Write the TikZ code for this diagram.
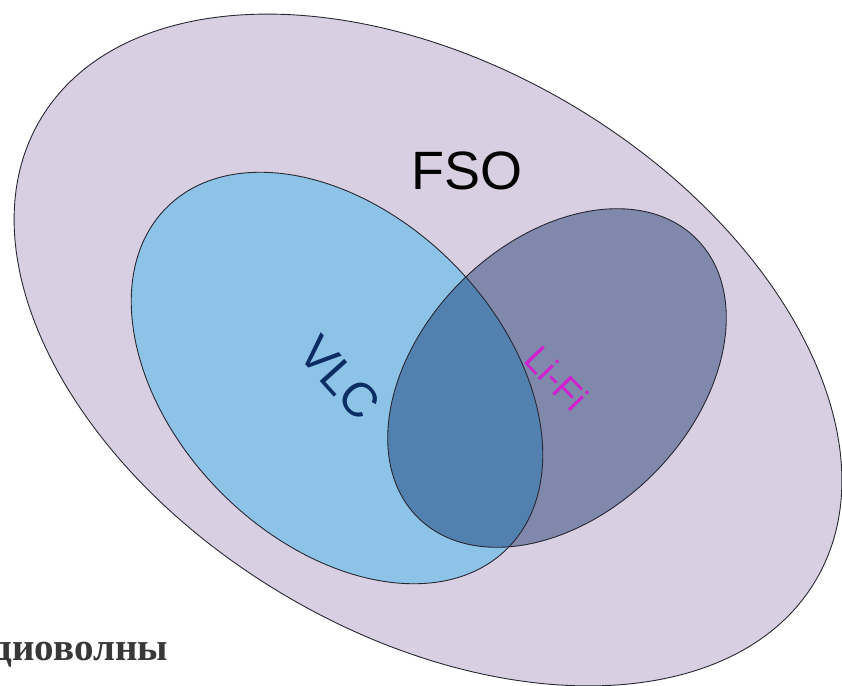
\documentclass[tikz,border=0pt]{standalone}
\usepackage{fontspec}
\setmainfont{Liberation Sans}
\newfontfamily\radiofont{Liberation Serif}
\definecolor{fsofill}{RGB}{216,208,226}
\definecolor{vlcfill}{RGB}{141,195,230}
\definecolor{lififill}{RGB}{128,136,172}
\definecolor{bothfill}{RGB}{82,129,176}
\definecolor{vlctext}{RGB}{12,45,100}
\definecolor{lifitext}{RGB}{208,32,208}
\definecolor{edge}{RGB}{40,40,50}
\tikzset{
  setline/.style={draw=edge, line width=0.9pt},
  lbl/.style={inner sep=0pt, outer sep=0pt}
}
\begin{document}
\begin{tikzpicture}[x=1pt,y=-1pt]
\useasboundingbox (0,0) rectangle (842,685);
\begin{scope}
\clip (0,0) rectangle (842,685);
% FSO
\fill[fsofill, rotate around={-30.8:(428,350)}] (428,350) ellipse [x radius=451, y radius=284];
% VLC
\fill[vlcfill, rotate around={-45:(337,378)}] (337,378) ellipse [x radius=241, y radius=163];
% Li-Fi
\fill[lififill, rotate around={45:(557,378)}] (557,378) ellipse [x radius=197, y radius=136];
% intersection
\begin{scope}
\clip[rotate around={-45:(337,378)}] (337,378) ellipse [x radius=241, y radius=163];
\fill[bothfill, rotate around={45:(557,378)}] (557,378) ellipse [x radius=197, y radius=136];
\end{scope}
% outlines
\draw[setline, rotate around={-30.8:(428,350)}] (428,350) ellipse [x radius=451, y radius=284];
\draw[setline, rotate around={-45:(337,378)}] (337,378) ellipse [x radius=241, y radius=163];
\draw[setline, rotate around={45:(557,378)}] (557,378) ellipse [x radius=197, y radius=136];
% labels
\node[lbl] (fso) at (467,171) {\fontsize{54}{58}\selectfont FSO};
\node[lbl, text=vlctext, rotate=-48] (vlc) at (340,378) {\fontsize{48}{52}\selectfont VLC};
\node[lbl, text=lifitext, rotate=-46] (lifi) at (557,378) {\fontsize{37}{40}\selectfont Li-Fi};
\node[lbl, anchor=base east, text=black!78] (radio) at (168,660) {\radiofont\bfseries\fontsize{39}{42}\selectfont диоволны};
\end{scope}
\end{tikzpicture}
\end{document}
